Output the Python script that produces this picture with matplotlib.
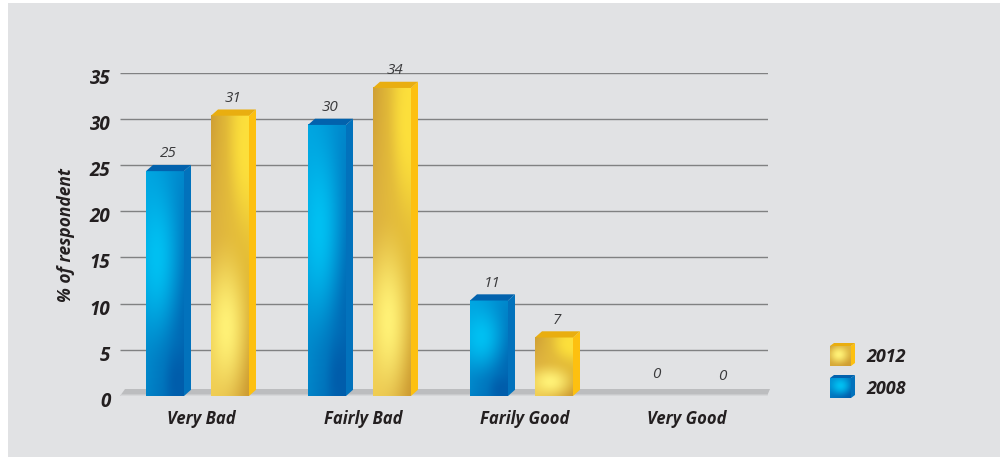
import numpy as np
import matplotlib
matplotlib.use("Agg")
import matplotlib.pyplot as plt
from matplotlib.colors import to_rgb
from matplotlib.patches import Polygon, Rectangle
from matplotlib.transforms import ScaledTranslation

# =========================
# DATA
# =========================
categories = ["Very Bad", "Fairly Bad", "Farily Good", "Very Good"]
values_2008 = [25, 30, 11, 0]
values_2012 = [31, 34, 7, 0]
y_ticks = [0, 5, 10, 15, 20, 25, 30, 35]

# =========================
# SETTINGS
# =========================
W, H = 1000, 457
FONT = "Open Sans"
PANEL = "#e1e2e4"
TEXT = "#231f20"

# corners = bottom-left, bottom-right, top-left, top-right of the front face
# blob = colour, cx, cy, rx, ry in unit coords, y=0 at bottom
BLUE = dict(
    corners=["#0084c8", "#005dab", "#00a4e0", "#0088cc"],
    blobs=[("#00c0f2", 0.28, 0.62, 0.85, 0.50), ("#005dab", 0.85, 0.06, 0.45, 0.20)],
    side="#0272bc", top="#0262ad",
)
GOLD = dict(
    corners=["#f0cb50", "#cd9c33", "#cf9f35", "#fee23a"],
    blobs=[("#fff176", 0.40, 0.24, 0.80, 0.36), ("#fde03c", 0.95, 0.88, 0.60, 0.35)],
    side="#fdc010", top="#e9ae10",
)
LEG_GOLD = dict(
    corners=["#d8aa38", "#cd9c33", "#d0a035", "#e0b840"],
    blobs=[("#fff176", 0.42, 0.58, 0.70, 0.65)],
    side=GOLD["side"], top=GOLD["top"],
)
LEG_BLUE = dict(
    corners=["#0078c0", "#005dab", "#0090d4", "#0078c0"],
    blobs=[("#00c0f2", 0.50, 0.62, 0.70, 0.65)],
    side=BLUE["side"], top=BLUE["top"],
)


def gradient(style, n=80):
    yy, xx = np.mgrid[0:1:n * 1j, 0:1:n * 1j]
    xx3, yy3 = xx[..., None], yy[..., None]
    bl, br, tl, tr = [np.array(to_rgb(c)) for c in style["corners"]]
    img = (bl * (1 - xx3) + br * xx3) * (1 - yy3) + (tl * (1 - xx3) + tr * xx3) * yy3
    for col, cx, cy, rx, ry in style["blobs"]:
        d = ((xx - cx) / rx) ** 2 + ((yy - cy) / ry) ** 2
        a = np.clip(1 - np.sqrt(d), 0, 1)[..., None]
        a = a * a * (3 - 2 * a)
        img = img * (1 - a) + np.array(to_rgb(col)) * a
    return img


def box3d(ax, x0, x1, y0, y1, dx, dy, style, z=3):
    # front face with gradient, then side and top
    ax.imshow(gradient(style), extent=(x0, x1, y0, y1), origin="lower", aspect="auto",
              interpolation="bilinear", zorder=z, clip_on=False)
    ax.add_patch(Polygon([(x1, y0), (x1 + dx, y0 + dy), (x1 + dx, y1 + dy), (x1, y1)],
                         fc=style["side"], ec="none", zorder=z, clip_on=False))
    ax.add_patch(Polygon([(x0, y1), (x0 + dx, y1 + dy), (x1 + dx, y1 + dy), (x1, y1)],
                         fc=style["top"], ec="none", zorder=z, clip_on=False))


fig = plt.figure(figsize=(W / 100, H / 100), dpi=100, facecolor="white")
fig.patches.append(Rectangle((8 / W, 0), 1 - 8 / W, 1 - 3 / H, transform=fig.transFigure,
                             fc=PANEL, ec="none", zorder=-5))

# pixel mapping of the plot area
left, right, y0_px, y35_px = 120, 768, 396, 72.5
ax = fig.add_axes([left / W, 1 - y0_px / H, (right - left) / W, (y0_px - y35_px) / H])
ax.patch.set_alpha(0)
ax.set_xlim(-0.5, 3.5)
ax.set_ylim(0, 35)
for s in ax.spines.values():
    s.set_visible(False)

px_x = 4 / (right - left)
px_y = 35 / (y0_px - y35_px)
DX, DY = 7 * px_x, 6.2 * px_y

# gridlines, y=0 is replaced by the floor
for t in y_ticks[1:]:
    ax.plot([-0.5, 3.5], [t, t], color="#808182", lw=1.0, zorder=1, solid_capstyle="butt")

# floor
ax.add_patch(Polygon([(-0.5, 0), (-0.5 + 5 * px_x, 7 * px_y), (3.5 + 2 * px_x, 7 * px_y), (3.5 - 1 * px_x, 0)],
                     fc="#bcbdbf", ec="none", zorder=2, clip_on=False))
ax.add_patch(Polygon([(-0.5, 0), (-0.5 + 1 * px_x, 1.5 * px_y), (3.5 - 0.5 * px_x, 1.5 * px_y), (3.5 - 1 * px_x, 0)],
                     fc="#d6d7d9", ec="none", zorder=2, clip_on=False))

# bars
bar_w = 38 * px_x
off_2008 = -55 * px_x
off_2012 = 10 * px_x
for i in range(len(categories)):
    for v, off, style in [(values_2008[i], off_2008, BLUE), (values_2012[i], off_2012, GOLD)]:
        if v > 0:
            box3d(ax, i + off, i + off + bar_w, 0, v - DY, DX, DY, style)

# value labels
label_font = dict(family=FONT, style="italic", fontsize=11, color="#3a3a3c", ha="center", va="center", zorder=5)
for i in range(len(categories)):
    for v, off in [(values_2008[i], off_2008), (values_2012[i], off_2012)]:
        cx = i + off + bar_w / 2 + 3 * px_x
        if v > 0:
            ax.text(cx, v + 11 * px_y, str(v), **label_font)
# the two zero labels sit on their own, off the bar slots
ax.text(3 + off_2008 + 24 * px_x, 22 * px_y, "0", **label_font)
ax.text(3 + 35 * px_x, 20 * px_y, "0", **label_font)

# axes text
ax.set_xticks(range(len(categories)))
ax.set_xticklabels(categories, family=FONT, style="italic", weight="bold", fontsize=12, color=TEXT)
ax.set_yticks(y_ticks)
ax.set_yticklabels(y_ticks, family=FONT, style="italic", weight="bold", fontsize=13.5, color=TEXT)
ax.tick_params(axis="both", length=0)
ax.tick_params(axis="x", pad=10)
ax.tick_params(axis="y", pad=7)
down = ScaledTranslation(0, -3.5 / 72 * 0.72, fig.dpi_scale_trans)
for lab in ax.get_yticklabels():
    lab.set_transform(lab.get_transform() + down)
fig.text(66 / W, 1 - 235 / H, "% of respondent", rotation=90, ha="center", va="center",
         family=FONT, style="italic", weight="bold", fontsize=12.5, color=TEXT)

# legend drawn in pixel coordinates
leg = fig.add_axes([0, 0, 1, 1])
leg.set_xlim(0, W)
leg.set_ylim(H, 0)
leg.axis("off")
leg.patch.set_alpha(0)
for label, ytop, style in [("2012", 346, LEG_GOLD), ("2008", 378, LEG_BLUE)]:
    leg.imshow(gradient(style), extent=(830, 851, ytop + 20, ytop), origin="lower", aspect="auto", zorder=3)
    leg.add_patch(Polygon([(851, ytop + 20), (855, ytop + 17), (855, ytop - 3), (851, ytop)], fc=style["side"], ec="none"))
    leg.add_patch(Polygon([(830, ytop), (834, ytop - 3), (855, ytop - 3), (851, ytop)], fc=style["top"], ec="none"))
    leg.text(866, ytop + 10.5, label, family=FONT, style="italic", weight="bold", fontsize=13,
             color=TEXT, ha="left", va="center")
leg.set_xlim(0, W)
leg.set_ylim(H, 0)

fig.savefig("out.png", dpi=100)
